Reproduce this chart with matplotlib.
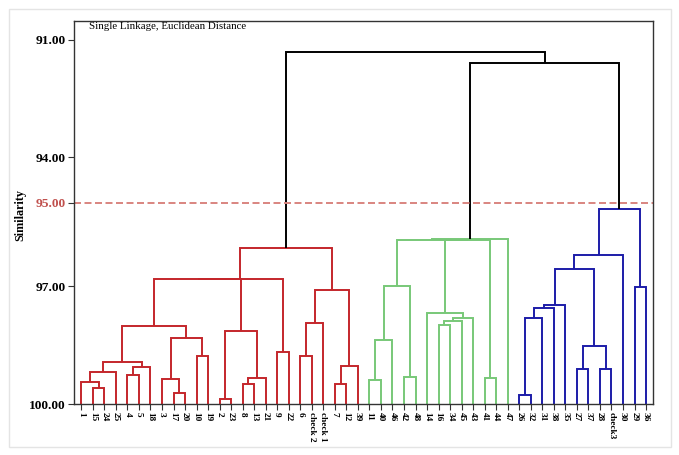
import numpy as np
import matplotlib
matplotlib.use("Agg")
import matplotlib.pyplot as plt
from matplotlib.patches import Rectangle

# leaf order along the x axis
leaves = ["1", "15", "24", "25", "4", "5", "18", "3", "17", "20", "10", "19", "2", "23",
          "8", "13", "21", "9", "22", "6", "check 2", "check 1", "7", "12", "39",
          "11", "40", "46", "42", "48", "14", "16", "34", "45", "43", "41", "44", "47",
          "26", "32", "31", "38", "35", "27", "37", "28", "check3", "30", "29", "36"]
cluster_sizes = [25, 13, 12]
cluster_colors = ["#c4262b", "#78c878", "#1c1ca8"]

# merges: (left, right, similarity); str = leaf, int = earlier merge
merges = [
    ("15", "24", 99.58), ("1", 0, 99.45), (1, "25", 99.19), ("4", "5", 99.26),
    (3, "18", 99.07), (2, 4, 98.92), ("17", "20", 99.73), ("3", 6, 99.36),
    ("10", "19", 98.77), (7, 8, 98.32), (5, 9, 98.02), ("2", "23", 99.87),
    ("8", "13", 99.48), (12, "21", 99.35), (11, 13, 98.15), ("9", "22", 98.68),
    (10, 14, 96.82), (16, 15, 96.82), ("6", "check 2", 98.77), (18, "check 1", 97.94),
    ("7", "12", 99.49), (20, "39", 99.02), (19, 21, 97.09), (17, 22, 96.08),
    # green
    ("11", "40", 99.38), (24, "46", 98.36), ("42", "48", 99.30), (25, 26, 96.99),
    ("16", "34", 97.98), (28, "45", 97.89), (29, "43", 97.81), ("14", 30, 97.68),
    ("41", "44", 99.35), (31, 32, 95.90), (27, 33, 95.90), (34, "47", 95.86),
    # blue
    ("26", "32", 99.76), (36, "31", 97.82), (37, "38", 97.56), (38, "35", 97.47),
    ("27", "37", 99.11), ("28", "check3", 99.10), (40, 41, 98.51), (39, 42, 96.58),
    (43, "30", 96.25), ("29", "36", 97.03), (44, 45, 95.14),
    # top
    (35, 46, 91.59), (23, 47, 91.32),
]

tick_vals = [91, 94, 95, 97, 100]
tick_labels = ["91.00", "94.00", "95.00", "97.00", "100.00"]
cut_level = 95

# the source axis is not evenly spaced; follow its tick rows
scale_vals = [90] + tick_vals + [101]
scale_rows = [0.17, 39.3, 156.7, 202.3, 285.7, 403.3, 442.5]


def fwd(v):
    return np.interp(v, scale_vals, scale_rows)


def inv(p):
    return np.interp(p, scale_rows, scale_vals)


fig = plt.figure(figsize=(6.79, 4.55), dpi=100)
fig.patches.append(Rectangle((8.5 / 679, 1 - 447 / 455), 662 / 679, 438 / 455,
                             transform=fig.transFigure, fill=False,
                             edgecolor="#e4e4e4", lw=1))
ax = fig.add_axes([73.7 / 679, 1 - 404 / 455, (652.5 - 73.7) / 679, (404 - 20.7) / 455])
ax.set_yscale("function", functions=(fwd, inv))

group_of = {}
start = 0
for g, n in enumerate(cluster_sizes):
    for name in leaves[start:start + n]:
        group_of[name] = g
    start += n

node_x, node_h, node_groups = {}, {}, {}


def info(ref):
    if isinstance(ref, str):
        return leaves.index(ref), 100.0, {group_of[ref]}
    return node_x[ref], node_h[ref], node_groups[ref]


for k, (a, b, s) in enumerate(merges):
    xa, ha, ga = info(a)
    xb, hb, gb = info(b)
    groups = ga | gb
    color = cluster_colors[list(groups)[0]] if len(groups) == 1 else "black"
    ax.plot([xa, xa, xb, xb], [ha, s, s, hb], color=color, lw=1.4,
            solid_joinstyle="miter", solid_capstyle="butt")
    node_x[k] = (xa + xb) / 2
    node_h[k] = s
    node_groups[k] = groups

ax.axhline(cut_level, color="#d98580", lw=1.4, ls=(0, (3.6, 1.8)))

ax.set_xlim(-0.66, 49.56)
ax.set_ylim(100, 90.52)
ax.set_yticks(tick_vals)
ax.set_yticklabels(tick_labels, fontfamily="Liberation Serif", fontweight="bold", fontsize=9.6)
for lab, v in zip(ax.get_yticklabels(), tick_vals):
    if v == cut_level:
        lab.set_color("#c0504d")
ax.set_xticks(range(len(leaves)))
ax.set_xticklabels(leaves, rotation=270, fontfamily="Liberation Serif",
                   fontweight="bold", fontsize=6.7)
ax.tick_params(axis="both", direction="out", length=4, width=0.8, color="#333333", pad=2)
ax.tick_params(axis="y", pad=2)
ax.minorticks_off()
for sp in ax.spines.values():
    sp.set_color("#333333")
    sp.set_linewidth(1)

ax.text(0.026, 0.997, "Single Linkage, Euclidean Distance", transform=ax.transAxes,
        ha="left", va="top", fontfamily="Liberation Serif", fontsize=7.8)
fig.text(20 / 679, 1 - 215 / 455, "Similarity", rotation=90, ha="center", va="center",
         fontfamily="Liberation Serif", fontweight="bold", fontsize=8.7)

fig.savefig("out.png", dpi=100)
